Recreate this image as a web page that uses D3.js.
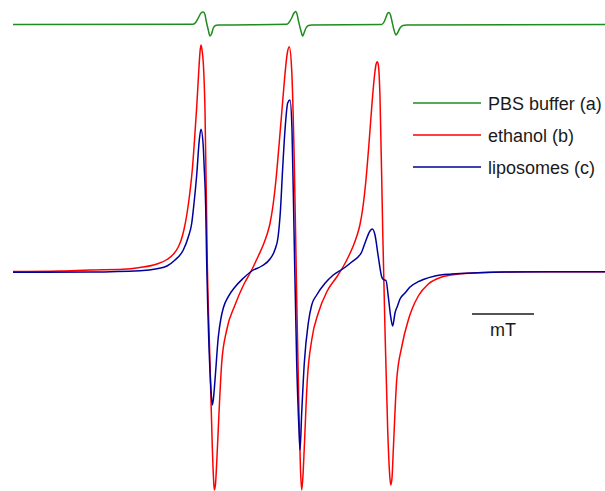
<!DOCTYPE html>
<html>
<head>
<meta charset="utf-8">
<script src="https://cdn.jsdelivr.net/npm/d3@7/dist/d3.min.js"></script>
<style>
  html, body { margin: 0; padding: 0; background: #fff; }
  svg { display: block; }
</style>
</head>
<body>
<div id="chart"></div>
<script>
// Field positions (arbitrary units) and derivative signal
const series = ["PBS buffer (a)", "ethanol (b)", "liposomes (c)"];
const colors = ["#1e8c1e", "#ff0000", "#00009c"];

const pbs = [
  [13, 0], [193, 0.2], [196, 2.5], [198.3, 6.5], [201, 11.5], [203.3, 12.5], [205, 10],
  [206, 4.5], [208.3, -5.5], [210, -11.5], [211.5, -9.5], [213.3, -3.5], [215.5, -1],
  [218.3, -0.5], [286.7, 0.2], [289, 2], [291.7, 6.5], [294, 11.5], [295.7, 13], [297, 10.5],
  [298.3, 4.5], [300.7, -5.5], [302.7, -11.5], [304, -8.5], [306, -3.5], [308.5, -1],
  [311.7, -0.5], [381.7, 0], [384, 2.5], [385.7, 6.5], [387.5, 11], [389, 12], [390.5, 9.5],
  [391.7, 4.5], [394, -5.5], [396, -10.5], [397.5, -8.5], [400, -3.5], [403, -1],
  [406.7, -0.5], [605, 0]
];

const ethanol = [
  [13, 0], [60, 0.5], [90, 1.5], [123, 2.2], [140, 4], [157, 7.5], [167, 12], [174, 18],
  [178, 24], [181, 31], [184, 42], [187, 58], [190, 80], [192.5, 104], [194.5, 131.5],
  [196.7, 164.5], [199, 204.5], [200, 219.5], [201, 226.5], [202, 221.5], [203.3, 208.5],
  [205, 161.5], [207.3, 8.5], [210, -91.5], [212.3, -175.5], [213.5, -206.5], [214.3, -218.5],
  [215.5, -212.5], [216.7, -191.5], [219, -141.5], [221.7, -91.5], [226.7, -58.5],
  [235, -33.5], [244, -12.5], [251.7, 1.5], [258.3, 15.5], [263, 26], [267, 37], [270, 48],
  [273, 66], [276, 92], [279, 126], [282, 162], [284.5, 192], [287.3, 218.5], [289.3, 224.8],
  [291.7, 201.5], [294.3, 108.5], [296.7, -25.5], [299, -141.5], [300.5, -198.5],
  [301.7, -218.5], [303, -203.5], [304.3, -175.5], [307.3, -108.5], [311.7, -68.5],
  [318.3, -41.5], [326.7, -20.5], [336.7, -5.5], [343, 4.5], [349, 16], [353, 25],
  [357, 36], [360, 47], [363, 65], [366, 92], [369, 128], [372, 168], [374.5, 196],
  [376, 207], [377.3, 209.8], [378.5, 205.5], [380, 174.5], [382.7, 41.5], [385, -58.5],
  [387.7, -158.5], [389.5, -200.5], [390.7, -213.5], [392, -206.5], [393.3, -178.5],
  [396.7, -108.5], [401.7, -75.5], [408.3, -48.5], [411.7, -38.5], [418.3, -24.5],
  [428.3, -12.5], [441.7, -5.5], [458.3, -2.5], [478, -1.2], [505, -0.5], [540, -0.3],
  [605, -0.2]
];

const liposomes = [
  [13, -0.8], [90, -0.5], [140, 0.8], [157, 2.8], [167, 5.5], [175, 11.5], [183.3, 21.5],
  [188.3, 34.5], [191.7, 48], [194, 68], [196.7, 96.5], [199.3, 131.5], [201, 142.2],
  [203.3, 124.5], [204, 108.5], [205.7, 64.5], [206.7, 8.5], [209, -75.5], [211, -118.5],
  [212.3, -133.5], [213.5, -126.5], [215, -108.5], [218.3, -65.5], [221, -46.5],
  [223.3, -36.5], [228.3, -25.2], [235, -15.5], [243.3, -6.8], [251.7, 0.5], [261.7, 5.5],
  [270, 12.5], [275, 22], [278, 34], [280.5, 62], [282.5, 100], [285, 141.5], [287.7, 168.5],
  [290, 171.5], [292, 141.5], [294, 41.5], [296.7, -91.5], [299, -158.5], [300, -178.5],
  [301.7, -141.5], [304.3, -91.5], [308.3, -51.5], [311.7, -33.5], [316.7, -23.5],
  [325, -11.8], [333.3, -3.5], [342.7, 2.5], [351.7, 9.5], [361.7, 19.5], [365, 28.5],
  [370, 40.5], [372.3, 42.5], [375, 36.5], [378.3, 14.8], [381.7, -5.2], [383.3, -8],
  [386, -9], [388.3, -25.2], [390.7, -45.2], [392.7, -54.5], [395, -41.5], [397.5, -34.5],
  [400, -27.5], [405, -21.5], [410, -15.5], [418.3, -10.2], [423.3, -8], [435, -4.5],
  [451.7, -2.5], [478, -1.2], [505, -0.5], [605, -0.3]
];

// scale bar (field units) and label
const scaleBar = [472, 534];
const scaleBarLabel = "mT";

const W = 605, H = 491;
const pbsOffset = 247; // trace (a) is stacked above the others

const svg = d3.select("#chart").append("svg")
  .attr("width", W)
  .attr("height", H);

const x = d3.scaleLinear().domain([13, 605]).range([13, 605]);
const y = d3.scaleLinear().domain([-220, 260]).range([491.5, 11.5]);

const line = d3.line()
  .x(d => x(d[0]))
  .y(d => y(d[1]))
  .curve(d3.curveMonotoneX);

// spectra
const traces = [
  { data: pbs.map(d => [d[0], d[1] + pbsOffset]), color: colors[0] },
  { data: ethanol, color: colors[1] },
  { data: liposomes, color: colors[2] }
];

svg.selectAll(".trace")
  .data(traces)
  .enter()
  .append("path")
  .attr("class", "trace")
  .attr("d", d => line(d.data))
  .attr("fill", "none")
  .attr("stroke", d => d.color)
  .attr("stroke-width", 1.5)
  .attr("stroke-linejoin", "round");

// legend
const legend = svg.append("g").attr("transform", "translate(413,103)");
const items = legend.selectAll(".item")
  .data(series)
  .enter()
  .append("g")
  .attr("class", "item")
  .attr("transform", (d, i) => `translate(0,${i * 32})`);

items.append("line")
  .attr("x1", 0).attr("x2", 68)
  .attr("y1", 0).attr("y2", 0)
  .attr("stroke", (d, i) => colors[i])
  .attr("stroke-width", 1.5);

items.append("text")
  .attr("x", 75)
  .attr("y", 6.5)
  .attr("font-family", "Liberation Sans, Arial, sans-serif")
  .attr("font-size", "18px")
  .attr("fill", "#1a1a1a")
  .text(d => d);

// scale bar
const barY = y(-42.5);
svg.append("line")
  .attr("x1", x(scaleBar[0])).attr("x2", x(scaleBar[1]))
  .attr("y1", barY).attr("y2", barY)
  .attr("stroke", "#1a1a1a")
  .attr("stroke-width", 1.5);

svg.append("text")
  .attr("x", x((scaleBar[0] + scaleBar[1]) / 2))
  .attr("y", barY + 22)
  .attr("text-anchor", "middle")
  .attr("font-family", "Liberation Sans, Arial, sans-serif")
  .attr("font-size", "18px")
  .attr("fill", "#1a1a1a")
  .text(scaleBarLabel);
</script>
</body>
</html>
